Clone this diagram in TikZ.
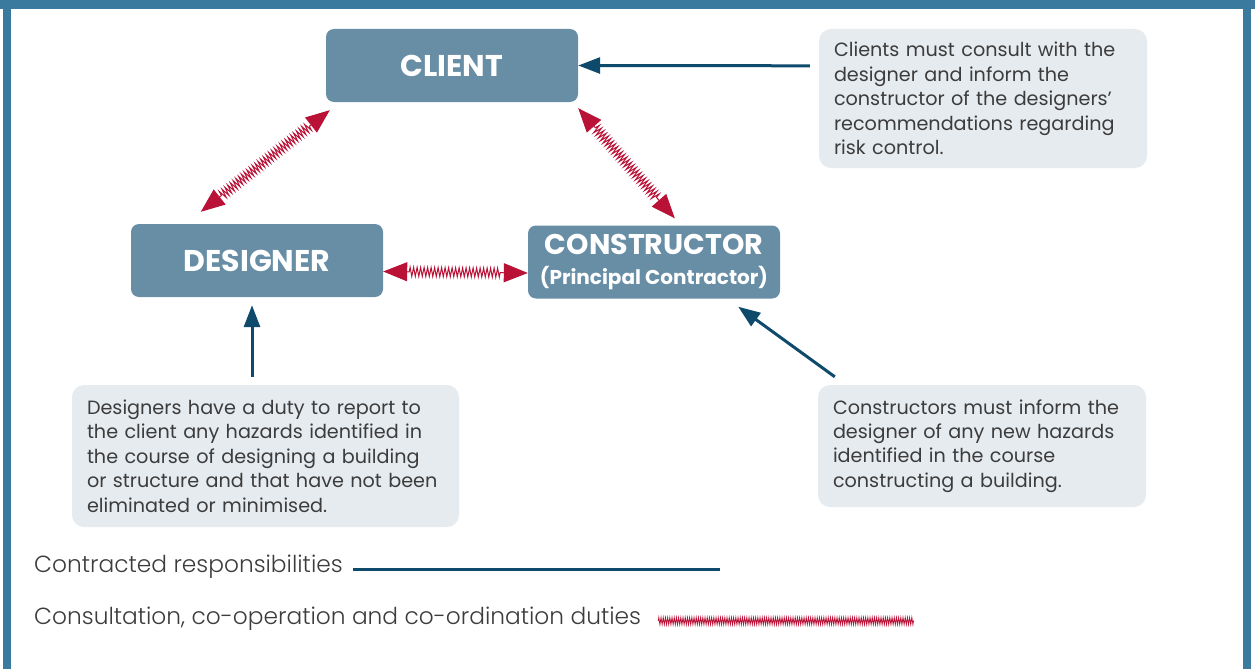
\documentclass[tikz,border=0pt]{standalone}
\usepackage{fontspec}
\setmainfont{Poppins}
\newfontfamily\legendfont{Poppins Light}
\usetikzlibrary{arrows.meta,decorations.pathmorphing}
\definecolor{framecol}{HTML}{3A7A9F}
\definecolor{boxcol}{HTML}{678EA5}
\definecolor{notecol}{HTML}{E6EBEF}
\definecolor{textcol}{HTML}{3C3C3C}
\definecolor{contractcol}{HTML}{0E4A6C}
\definecolor{coopcol}{HTML}{BA1137}
\tikzset{
  party/.style={fill=boxcol, rounded corners=8pt, minimum width=252pt, minimum height=73pt, inner sep=0pt, text=white, align=center, font=\fontsize{30}{32}\selectfont\bfseries},
  note/.style={fill=notecol, rounded corners=12pt, inner sep=0pt, text=textcol, align=left, font=\fontsize{19.2}{24.4}\selectfont},
  legend/.style={inner sep=5pt, text=textcol, font=\legendfont\fontsize{23.3}{26}\selectfont},
  contract/.style={draw=contractcol, line width=3pt, -{Triangle[length=22pt,width=16pt]}},
  coop/.style={draw=coopcol, line width=1pt, decorate, decoration={zigzag, amplitude=4.5pt, segment length=3.5pt, pre length=26pt, post length=26pt}, {Triangle[length=24pt,width=19pt]}-{Triangle[length=24pt,width=19pt]}},
}
\begin{document}
\begin{tikzpicture}[x=1pt,y=-1pt]
\useasboundingbox (0,0) rectangle (1255,669);
\fill[framecol] (0,0) rectangle (1255,9);
\foreach \x in {3,1243} \fill[framecol] (\x,9) rectangle (\x+8,669);
\node[party] (client) at (452,65.5) {CLIENT};
\node[party] (designer) at (257,260.5) {DESIGNER};
\node[party] (constructor) at (654,262) {{\fontsize{28.5}{30}\selectfont CONSTRUCTOR}\\[-2pt]{\fontsize{20}{22}\selectfont(Principal Contractor)}};
\node[note, minimum width=328pt, minimum height=139pt, text width=298pt] (clientnote) at (983,98.5) {Clients must consult with the\\designer and inform the\\constructor of the designers'\\recommendations regarding\\risk control.};
\node[note, minimum width=387pt, minimum height=142pt, text width=357pt] (designernote) at (265.5,456) {Designers have a duty to report to\\the client any hazards identified in\\the course of designing a building\\or structure and that have not been\\eliminated or minimised.};
\node[note, minimum width=328pt, minimum height=122pt, text width=298pt] (constructornote) at (982,446) {Constructors must inform the\\designer of any new hazards\\identified in the course\\constructing a building.};
\draw[contract] ([shift={(-9,37)}]clientnote.north west) -- (client.east);
\draw[contract] ([shift={(-13.5,-8)}]designernote.north) -- ([shift={(-5,8)}]designer.south);
\draw[contract] ([shift={(17,-8)}]constructornote.north west) -- ([shift={(-42,8)}]constructor.south east);
\draw[coop] ([shift={(4,8)}]client.south west) -- ([shift={(70,-12)}]designer.north west);
\draw[coop] ([shift={(0,6)}]client.south east) -- ([shift={(147,-7)}]constructor.north west);
\draw[coop] ([yshift=-11pt]designer.east) -- ([yshift=-11pt]constructor.west);
\node[legend, anchor=west] (legcontract) at (29,566.5) {Contracted responsibilities};
\coordinate (contractend) at (720,569);
\path (legcontract.east |- contractend) coordinate (contractstart);
\draw[contractcol, line width=3pt] ([xshift=5pt]contractstart) -- (contractend);
\node[legend, anchor=west] (legcoop) at (29,618.5) {Consultation, co-operation and co-ordination duties};
\coordinate (coopend) at (914,621);
\path (legcoop.east |- coopend) coordinate (coopstart);
\draw[coopcol, line width=0.8pt, decorate, decoration={zigzag, amplitude=3.5pt, segment length=2.2pt}] ([xshift=12pt]coopstart) -- (coopend);
\end{tikzpicture}
\end{document}
